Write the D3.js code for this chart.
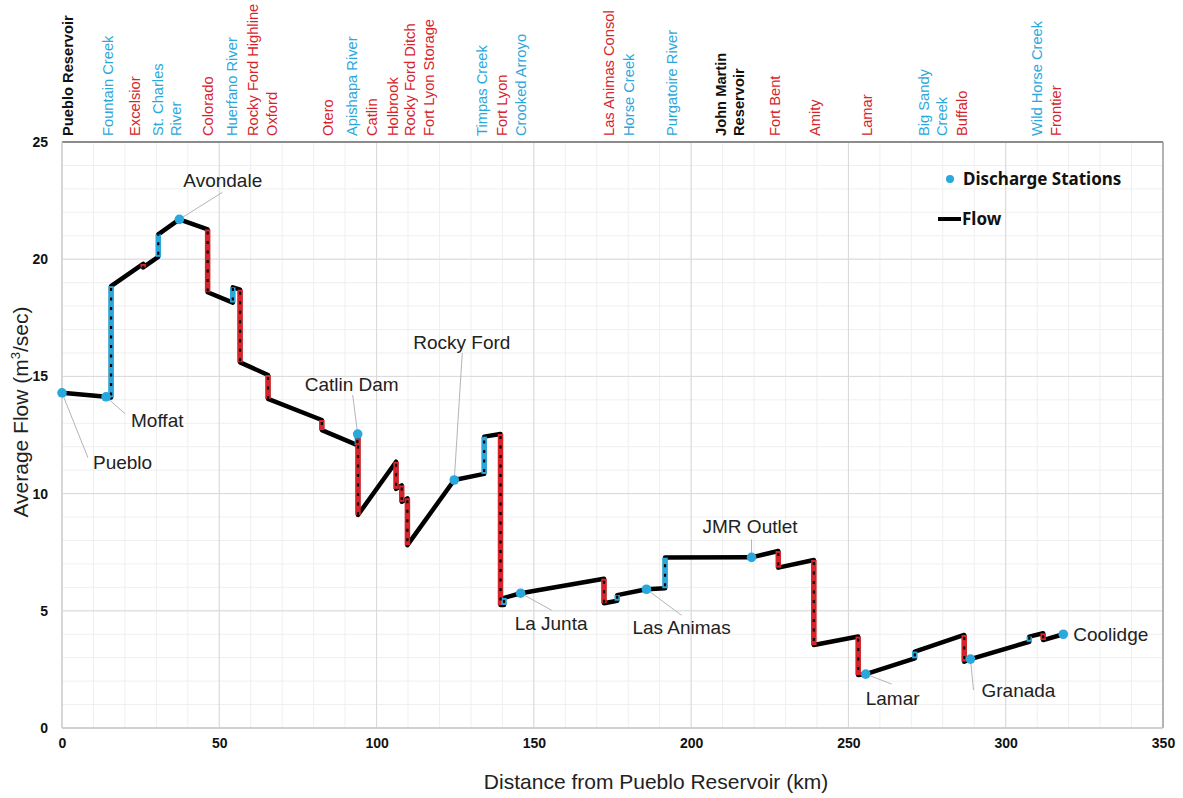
<!DOCTYPE html>
<html>
<head>
<meta charset="utf-8">
<script src="https://cdn.jsdelivr.net/npm/d3@7"></script>
<style>
  body { margin: 0; background: #fff; }
  svg { display: block; font-family: "Liberation Sans", Arial, sans-serif; }
</style>
</head>
<body>
<svg id="chart" width="1183" height="798"></svg>
<script>
// ---- Flow profile along the river (km from Pueblo Reservoir, m3/s) ----
// Consecutive vertices sharing a km value are inflows (up) or diversions (down).
const profileKm = [
  0, 14.0, 15.6, 15.6, 25.8, 25.8, 30.6, 30.6, 37.3, 46.3, 46.3,
  54.3, 54.3, 56.6, 56.6, 65.5, 65.5, 82.6, 82.6, 93.9, 93.9, 94.1, 94.1,
  106.2, 106.2, 108.0, 108.0, 109.8, 109.8, 124.7, 134.2, 134.2, 139.4, 139.4,
  140.5, 140.5, 145.8, 172.3, 172.3, 176.5, 176.5, 185.8, 191.7, 191.7,
  219.2, 227.7, 227.7, 239.0, 239.0, 253.1, 253.1, 255.5, 271.1, 271.1,
  286.8, 286.8, 288.8, 307.5, 307.5, 311.9, 311.9, 318.3
];
const profileFlow = [
  14.3, 14.13, 14.1, 18.85, 19.8, 19.65, 20.1, 21.06, 21.7, 21.27, 18.59,
  18.15, 18.8, 18.7, 15.6, 15.06, 14.04, 13.14, 12.71, 12.07, 12.54, 12.54, 9.09,
  11.36, 10.2, 10.35, 9.65, 9.8, 7.8, 10.58, 10.84, 12.43, 12.54, 5.25,
  5.25, 5.55, 5.75, 6.37, 5.32, 5.43, 5.67, 5.92, 5.96, 7.27,
  7.28, 7.55, 6.84, 7.17, 3.54, 3.9, 2.26, 2.3, 2.97, 3.26,
  3.97, 2.83, 2.94, 3.68, 3.9, 4.04, 3.75, 4.0
];

// ---- Discharge stations ----
const stationNames = ["Pueblo", "Moffat", "Avondale", "Catlin Dam", "Rocky Ford", "La Junta",
                      "Las Animas", "JMR Outlet", "Lamar", "Granada", "Coolidge"];
const stationKm   = [0, 14.0, 37.3, 94.0, 124.7, 145.8, 185.8, 219.2, 255.5, 288.8, 318.3];
const stationFlow = [14.3, 14.13, 21.7, 12.54, 10.58, 5.75, 5.92, 7.28, 2.3, 2.94, 4.0];

// ---- Tributaries, diversions and reservoirs listed above the plot ----
const siteNames = [
  ["Pueblo Reservoir"], ["Fountain Creek"], ["Excelsior"], ["St. Charles", "River"], ["Colorado"],
  ["Huerfano River"], ["Rocky Ford Highline"], ["Oxford"], ["Otero"], ["Apishapa River"],
  ["Catlin"], ["Holbrook"], ["Rocky Ford Ditch"], ["Fort Lyon Storage"], ["Timpas Creek"],
  ["Fort Lyon"], ["Crooked Arroyo"], ["Las Animas Consol"], ["Horse Creek"], ["Purgatoire River"],
  ["John Martin", "Reservoir"], ["Fort Bent"], ["Amity"], ["Lamar"], ["Big Sandy", "Creek"],
  ["Buffalo"], ["Wild Horse Creek"], ["Frontier"]
];
const siteKm = [
  1.9, 14.6, 23.2, 33.4, 46.4, 54.0, 60.7, 66.8, 84.6, 92.2, 98.5, 105.2, 110.6, 116.7,
  133.5, 139.9, 145.9, 173.9, 180.2, 193.9, 212.2, 226.6, 239.4, 255.9, 276.9, 286.1, 309.9, 316.0
];
const siteKind = [
  "reservoir", "inflow", "diversion", "inflow", "diversion", "inflow", "diversion", "diversion",
  "diversion", "inflow", "diversion", "diversion", "diversion", "diversion", "inflow", "diversion",
  "inflow", "diversion", "inflow", "inflow", "reservoir", "diversion", "diversion", "diversion",
  "inflow", "diversion", "inflow", "diversion"
];

const xTicks = [0, 50, 100, 150, 200, 250, 300, 350];
const yTicks = [0, 5, 10, 15, 20, 25];

// ---- Layout ----
const BLUE = "#2aa7dc", RED = "#d7242b";
const kindColor = { inflow: BLUE, diversion: RED, reservoir: "#111" };

// station label placement relative to its marker (px)
const labelDx  = [31, 25, 4, -53, -41, -6, -14, -49, 0, 11, 10];
const labelDy  = [70, 24, -39, -50, -138, 30, 38, -31, 24, 31, 0];
const leaderDx = [26, 19, 43, -5, 8, 31, 35, 0, 26, 3, null];
const leaderDy = [65, 17, -27, -39, -127, 17, 26, -18, 10, 31, null];

const svg = d3.select("#chart");
const x = d3.scaleLinear().domain([0, 350]).range([62, 1163]);
const y = d3.scaleLinear().domain([0, 25]).range([728, 142]);

// minor grid
const g = svg.append("g");
g.selectAll(".vminor").data(d3.range(10, 350, 10)).join("line")
  .attr("x1", d => x(d)).attr("x2", d => x(d)).attr("y1", y(0)).attr("y2", y(25))
  .attr("stroke", "#efefef").attr("stroke-width", 1);
g.selectAll(".hminor").data(d3.range(1, 25, 1)).join("line")
  .attr("x1", x(0)).attr("x2", x(350)).attr("y1", d => y(d)).attr("y2", d => y(d))
  .attr("stroke", "#efefef").attr("stroke-width", 1);
// major grid
g.selectAll(".vmajor").data(xTicks).join("line")
  .attr("x1", d => x(d)).attr("x2", d => x(d)).attr("y1", y(0)).attr("y2", y(25))
  .attr("stroke", "#d9d9d9").attr("stroke-width", 1);
g.selectAll(".hmajor").data(yTicks).join("line")
  .attr("x1", x(0)).attr("x2", x(350)).attr("y1", d => y(d)).attr("y2", d => y(d))
  .attr("stroke", "#d9d9d9").attr("stroke-width", 1);

// frame
svg.append("line").attr("x1", x(0)).attr("x2", x(350)).attr("y1", y(25)).attr("y2", y(25))
  .attr("stroke", "#8c8c8c").attr("stroke-width", 2);
svg.append("line").attr("x1", x(350)).attr("x2", x(350)).attr("y1", y(25)).attr("y2", y(0))
  .attr("stroke", "#a0a0a0").attr("stroke-width", 1.5);
svg.append("line").attr("x1", x(0)).attr("x2", x(350)).attr("y1", y(0)).attr("y2", y(0))
  .attr("stroke", "#c8c8c8").attr("stroke-width", 1.5);
svg.append("line").attr("x1", x(0)).attr("x2", x(0)).attr("y1", y(25)).attr("y2", y(0))
  .attr("stroke", "#d0d0d0").attr("stroke-width", 1.5);

// axes (labels only)
const xAxis = d3.axisBottom(x).tickValues(xTicks).tickSize(0).tickPadding(10);
const yAxis = d3.axisLeft(y).tickValues(yTicks).tickSize(0).tickPadding(14);
const gx = svg.append("g").attr("transform", `translate(0,${y(0)})`).call(xAxis);
const gy = svg.append("g").attr("transform", `translate(${x(0)},0)`).call(yAxis);
[gx, gy].forEach(a => {
  a.select(".domain").remove();
  a.selectAll("text").attr("font-family", "Liberation Sans, Arial, sans-serif")
    .attr("font-size", 14).attr("font-weight", "bold").attr("fill", "#111");
});

// axis titles
svg.append("text").attr("x", 656).attr("y", 789).attr("text-anchor", "middle")
  .attr("font-size", 21).attr("fill", "#222").text("Distance from Pueblo Reservoir (km)");
const yt = svg.append("text").attr("transform", "translate(28,412) rotate(-90)")
  .attr("text-anchor", "middle").attr("font-size", 21).attr("fill", "#222");
yt.append("tspan").text("Average Flow (m");
yt.append("tspan").attr("font-size", 13).attr("dy", -8).text("3");
yt.append("tspan").attr("dy", 8).text("/sec)");

// site labels above the plot
siteNames.forEach((lines, i) => {
  const cx = x(siteKm[i]);
  lines.forEach((t, j) => {
    const lx = cx + (j - (lines.length - 1) / 2) * 18;
    svg.append("text")
      .attr("transform", `translate(${lx},136) rotate(-90)`)
      .attr("dy", "0.35em")
      .attr("font-size", 14.7)
      .attr("font-weight", siteKind[i] === "reservoir" ? "bold" : "normal")
      .attr("fill", kindColor[siteKind[i]])
      .text(t);
  });
});

// flow line
const pts = profileKm.map((k, i) => [k, profileFlow[i]]);
const line = d3.line().x(d => x(d[0])).y(d => y(d[1]));
svg.append("path").datum(pts).attr("d", line)
  .attr("fill", "none").attr("stroke", "#000").attr("stroke-width", 4.5)
  .attr("stroke-linejoin", "round");

// inflow / diversion steps
const steps = [];
for (let i = 0; i < pts.length - 1; i++) {
  if (pts[i][0] === pts[i + 1][0]) steps.push([pts[i], pts[i + 1]]);
}
svg.selectAll(".step").data(steps).join("line")
  .attr("x1", d => x(d[0][0])).attr("x2", d => x(d[1][0]))
  .attr("y1", d => y(d[0][1])).attr("y2", d => y(d[1][1]))
  .attr("stroke", d => d[1][1] > d[0][1] ? BLUE : RED).attr("stroke-width", 5.5);
svg.selectAll(".stepdash").data(steps).join("line")
  .attr("x1", d => x(d[0][0])).attr("x2", d => x(d[1][0]))
  .attr("y1", d => y(d[0][1]) + (d[1][1] > d[0][1] ? -2 : 2))
  .attr("y2", d => y(d[1][1]))
  .attr("stroke", "#000").attr("stroke-width", 2.2).attr("stroke-dasharray", "3 6.5");

// leader lines
stationNames.forEach((n, i) => {
  if (leaderDx[i] === null) return;
  const sx = x(stationKm[i]), sy = y(stationFlow[i]);
  svg.append("line").attr("x1", sx).attr("y1", sy)
    .attr("x2", sx + leaderDx[i]).attr("y2", sy + leaderDy[i])
    .attr("stroke", "#b5b5b5").attr("stroke-width", 1);
});

// station markers
svg.selectAll(".station").data(stationNames).join("circle")
  .attr("cx", (d, i) => x(stationKm[i])).attr("cy", (d, i) => y(stationFlow[i]))
  .attr("r", 4.8).attr("fill", BLUE);

// station labels
svg.selectAll(".slabel").data(stationNames).join("text")
  .attr("x", (d, i) => x(stationKm[i]) + labelDx[i])
  .attr("y", (d, i) => y(stationFlow[i]) + labelDy[i])
  .attr("dy", "0.35em").attr("font-size", 19).attr("fill", "#222")
  .text(d => d);

// legend
const lg = svg.append("g").attr("font-family", "'Noto Sans', 'Open Sans', sans-serif")
  .attr("font-weight", "bold").attr("font-size", 17).attr("fill", "#111");
lg.append("circle").attr("cx", 950).attr("cy", 179).attr("r", 4).attr("fill", BLUE);
lg.append("text").attr("x", 963).attr("y", 179).attr("dy", "0.35em").text("Discharge Stations");
lg.append("line").attr("x1", 938).attr("x2", 961).attr("y1", 219).attr("y2", 219)
  .attr("stroke", "#000").attr("stroke-width", 4);
lg.append("text").attr("x", 962).attr("y", 219).attr("dy", "0.35em").text("Flow");
</script>
</body>
</html>
